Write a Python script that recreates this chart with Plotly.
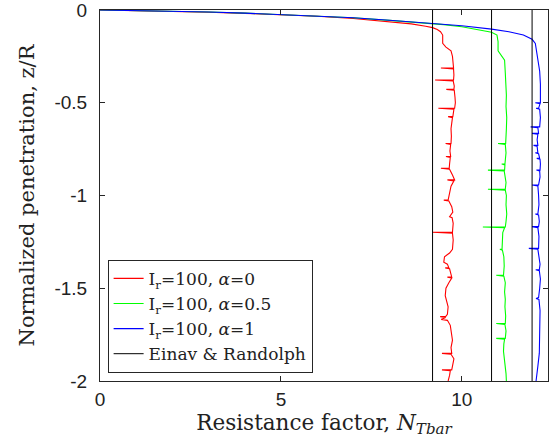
import plotly.graph_objects as go

# (N, z/R) pairs
red_profile = [
    (0, 0), (1, -0.003), (2, -0.007), (3, -0.012), (4, -0.018), (5, -0.025), (6, -0.034),
    (7, -0.046), (8, -0.062), (8.6, -0.075), (9.0, -0.088), (9.19, -0.095), (9.32, -0.105),
    (9.41, -0.117), (9.47, -0.135), (9.47, -0.18), (9.56, -0.2), (9.7, -0.22), (9.74, -0.25),
    (9.76, -0.28), (9.77, -0.313), (9.42, -0.313), (9.77, -0.318), (9.78, -0.35), (9.77, -0.377),
    (9.26, -0.377), (9.76, -0.382), (9.79, -0.41), (9.78, -0.428), (9.57, -0.428), (9.79, -0.433),
    (9.81, -0.47), (9.82, -0.5), (9.8, -0.53), (9.35, -0.53), (9.78, -0.535), (9.76, -0.56),
    (9.75, -0.575), (9.62, -0.575), (9.74, -0.58), (9.72, -0.61), (9.70, -0.64), (9.71, -0.68),
    (9.70, -0.72), (9.55, -0.72), (9.69, -0.725), (9.67, -0.76), (9.69, -0.79), (9.56, -0.79),
    (9.68, -0.795), (9.66, -0.83), (9.65, -0.853), (9.42, -0.853), (9.66, -0.858), (9.74, -0.89),
    (9.80, -0.916), (9.6, -0.916), (9.78, -0.921), (9.70, -0.95), (9.66, -0.99), (9.62, -1.025),
    (9.5, -1.025), (9.64, -1.03), (9.72, -1.06), (9.75, -1.09), (9.66, -1.114), (9.73, -1.12),
    (9.76, -1.15), (9.74, -1.198), (9.19, -1.198), (9.74, -1.203), (9.76, -1.24), (9.74, -1.29),
    (9.66, -1.31), (9.52, -1.33), (9.5, -1.36), (9.6, -1.37), (9.64, -1.39), (9.54, -1.39),
    (9.66, -1.395), (9.7, -1.42), (9.72, -1.44), (9.6, -1.44), (9.72, -1.445), (9.64, -1.47),
    (9.56, -1.5), (9.54, -1.54), (9.58, -1.57), (9.62, -1.6), (9.6, -1.64), (9.55, -1.653),
    (9.4, -1.653), (9.55, -1.658), (9.43, -1.668), (9.6, -1.673), (9.68, -1.7), (9.72, -1.74),
    (9.74, -1.78), (9.7, -1.82), (9.72, -1.851), (9.45, -1.851), (9.7, -1.856), (9.78, -1.88),
    (9.76, -1.91), (9.72, -1.94), (9.45, -1.94), (9.68, -1.945), (9.66, -1.97), (9.62, -2.0),
]

green_profile = [
    (0, 0), (1, -0.003), (2, -0.006), (3, -0.011), (4, -0.017), (5, -0.024), (6, -0.032),
    (7, -0.042), (8, -0.056), (9, -0.07), (9.5, -0.079), (10, -0.09), (10.5, -0.106),
    (10.82, -0.12), (10.97, -0.135), (11.0, -0.17), (11.0, -0.22), (11.1, -0.25), (11.18, -0.27),
    (11.2, -0.34), (11.22, -0.4), (11.23, -0.46), (11.22, -0.52), (11.24, -0.58), (11.23, -0.64),
    (11.22, -0.7), (11.21, -0.72), (11.0, -0.72), (11.2, -0.725), (11.22, -0.77), (11.2, -0.81),
    (11.19, -0.83), (11.1, -0.83), (11.19, -0.835), (11.18, -0.863), (10.72, -0.863),
    (11.17, -0.868), (11.2, -0.9), (11.22, -0.93), (11.2, -0.966), (10.72, -0.966),
    (11.2, -0.971), (11.23, -1.0), (11.22, -1.05), (11.24, -1.1), (11.22, -1.14), (11.2, -1.17),
    (10.58, -1.17), (11.18, -1.174), (11.13, -1.2), (11.12, -1.25), (11.11, -1.29),
    (11.05, -1.29), (11.12, -1.295), (11.16, -1.33), (11.17, -1.38), (11.15, -1.43),
    (10.95, -1.43), (11.16, -1.435), (11.2, -1.47), (11.18, -1.52), (11.2, -1.56),
    (11.19, -1.6), (11.21, -1.65), (11.2, -1.69), (10.95, -1.69), (11.19, -1.695),
    (11.22, -1.73), (11.2, -1.77), (10.95, -1.77), (11.18, -1.775), (11.16, -1.8),
    (11.15, -1.84), (11.18, -1.88), (11.2, -1.92), (11.22, -1.96), (11.23, -2.0),
]

blue_profile = [
    (0, 0), (1, -0.003), (2, -0.006), (3, -0.011), (4, -0.017), (5, -0.024), (6, -0.032),
    (7, -0.042), (8, -0.055), (9, -0.068), (10, -0.085), (10.82, -0.103), (11.3, -0.117),
    (11.7, -0.135), (11.94, -0.158), (12.03, -0.18), (12.07, -0.23), (12.12, -0.27),
    (12.15, -0.33), (12.17, -0.4), (12.16, -0.46), (12.17, -0.5), (12.03, -0.5), (12.16, -0.505),
    (12.12, -0.53), (12.05, -0.53), (12.15, -0.535), (12.17, -0.58), (12.15, -0.63),
    (11.9, -0.63), (12.1, -0.635), (12.12, -0.665), (11.94, -0.665), (12.1, -0.67),
    (12.08, -0.7), (12.1, -0.73), (11.98, -0.73), (12.08, -0.735), (12.1, -0.77), (12.03, -0.77),
    (12.12, -0.775), (12.15, -0.8), (12.07, -0.8), (12.16, -0.805), (12.17, -0.83),
    (12.16, -0.863), (12.06, -0.863), (12.15, -0.868), (12.16, -0.9), (12.12, -0.943),
    (11.94, -0.943), (12.1, -0.948), (12.12, -1.0), (12.13, -1.05), (12.1, -1.1),
    (12.03, -1.1), (12.12, -1.105), (12.14, -1.14), (12.12, -1.168), (11.94, -1.168),
    (12.1, -1.173), (12.13, -1.22), (12.12, -1.285), (11.85, -1.285), (12.1, -1.29),
    (12.14, -1.33), (12.16, -1.37), (12.14, -1.4), (12.04, -1.4), (12.14, -1.405),
    (12.17, -1.45), (12.15, -1.5), (12.12, -1.55), (12.05, -1.555), (12.13, -1.56),
    (12.16, -1.62), (12.15, -1.7), (12.13, -1.78), (12.14, -1.85), (12.1, -1.92),
    (12.06, -1.97), (12.05, -2.0),
]

einav_randolph_N = [9.19, 10.82, 11.94]
depth_limits = [0, -2]

series_names = ["I<sub>r</sub>=100, <i>α</i>=0", "I<sub>r</sub>=100, <i>α</i>=0.5",
                "I<sub>r</sub>=100, <i>α</i>=1", "Einav &amp; Randolph"]
series_colors = ["#ff0000", "#00ff00", "#0000ff", "#000000"]

x_ticks = [0, 5, 10]
y_ticks = [0, -0.5, -1, -1.5, -2]
y_tick_text = ["0", "-0.5", "-1", "-1.5", "-2"]

fig = go.Figure()
for prof, name, color in zip([red_profile, green_profile, blue_profile], series_names[:3], series_colors[:3]):
    fig.add_trace(go.Scatter(
        x=[p[0] for p in prof], y=[p[1] for p in prof], mode="lines", name=name,
        line=dict(color=color, width=1.1),
    ))

vx, vy = [], []
for n in einav_randolph_N:
    vx += [n, n, None]
    vy += [depth_limits[0], depth_limits[1], None]
fig.add_trace(go.Scatter(x=vx, y=vy, mode="lines", name=series_names[3],
                         line=dict(color=series_colors[3], width=1)))

axis_common = dict(
    showline=True, linecolor="#262626", linewidth=1, mirror="ticks",
    ticks="inside", ticklen=5, tickcolor="#262626", tickwidth=1,
    showgrid=False, zeroline=False, ticklabeloverflow="allow",
    tickfont=dict(family="Liberation Sans, Arial", size=19, color="#222222"),
)

fig.update_layout(
    width=552, height=447,
    margin=dict(l=100, r=4, t=10, b=66, autoexpand=False),
    paper_bgcolor="white", plot_bgcolor="white",
    xaxis=dict(range=[0, 12.38], tickvals=x_ticks, ticktext=[str(t) for t in x_ticks],
               title=dict(text="Resistance factor, <i>N</i><sub><i>Tbar</i></sub>",
                          font=dict(family="DejaVu Serif", size=21.5, color="#222222"),
                          standoff=2),
               ticklabelstandoff=1, automargin=False,
               **axis_common),
    yaxis=dict(range=[-2, 0], tickvals=y_ticks, ticktext=y_tick_text,
               title=dict(text="Normalized penetration, z/R",
                          font=dict(family="DejaVu Serif", size=21, color="#222222"),
                          standoff=14),
               ticklabelstandoff=8, automargin=False,
               **axis_common),
    legend=dict(x=0.017, y=0.022, xanchor="left", yanchor="bottom",
                bordercolor="#262626", borderwidth=1, bgcolor="white",
                font=dict(family="DejaVu Serif", size=17, color="#222222"),
                tracegroupgap=0, itemwidth=30),
    showlegend=True,
)

fig.write_html("out.html", config={"displayModeBar": False},
               post_script="document.body.style.margin='0';document.body.style.overflow='hidden';")
